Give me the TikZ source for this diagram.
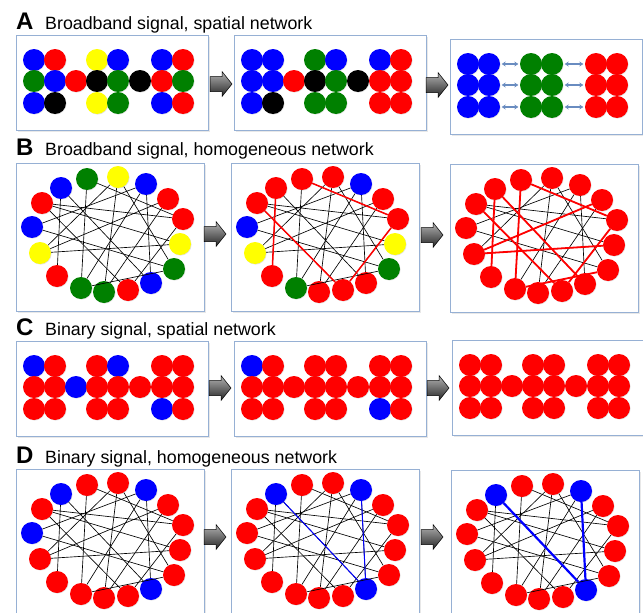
\documentclass[tikz,border=0pt]{standalone}
\usepackage{fontspec}
\setmainfont{Liberation Sans}
\usetikzlibrary{shadows,arrows.meta}
\definecolor{cblue}{RGB}{0,0,255}
\definecolor{cred}{RGB}{255,0,0}
\definecolor{cgreen}{RGB}{0,128,0}
\definecolor{cyellow}{RGB}{255,255,0}
\definecolor{cblack}{RGB}{0,0,0}
\definecolor{framec}{RGB}{150,176,212}
\definecolor{arrc}{RGB}{105,140,192}
\tikzset{
  panel/.style={draw=framec, line width=1pt, fill=white, inner sep=0pt, anchor=north west,
    drop shadow={opacity=0.18, shadow xshift=1pt, shadow yshift=-1pt}},
  dot/.style={circle, inner sep=0pt, minimum size=22pt, fill=#1,
    drop shadow={opacity=0.22, shadow xshift=0.6pt, shadow yshift=-0.6pt}},
  ndot/.style={circle, inner sep=0pt, minimum size=22pt, fill=#1,
    drop shadow={opacity=0.22, shadow xshift=0.6pt, shadow yshift=-0.6pt}},
  edgeblk/.style={black, line width=0.65pt},
  edgered/.style={cred, line width=1.5pt},
  edgeredthick/.style={cred, line width=1.8pt},
  edgeblue/.style={cblue, line width=1pt},
  edgebluethick/.style={cblue, line width=2.2pt},
  dblarr/.style={arrc, line width=1.2pt, {Stealth[length=4pt,width=5pt]}-{Stealth[length=4pt,width=5pt]}, shorten <=1.5pt, shorten >=1.5pt},
  letterlab/.style={anchor=base west, inner sep=0pt, font=\fontsize{24}{28}\selectfont\bfseries},
  titlelab/.style={anchor=base west, inner sep=0pt, font=\fontsize{17.8}{21}\selectfont},
  blockarr/.pic={\draw[black, line width=0.5pt, top color=black!30, bottom color=black!85]
    (0,-7.5) -- (12,-7.5) -- (12,-12.5) -- (22,0) -- (12,12.5) -- (12,7.5) -- (0,7.5) -- cycle;}
}
\newcommand\spatialpanel[4]{%
  \node[panel, minimum width=192pt, minimum height=95pt] (#1) at (#2,#3) {};
  \foreach \c/\r/\col in {#4}{%
    \pgfmathsetmacro\px{#2+{18,39,60,81,102,124,146,167}[\c-1]}%
    \pgfmathsetmacro\py{#3+{25,46,68}[\r-1]}%
    \node[dot=\col] (#1-\c-\r) at (\px,\py) {};
  }%
}
\newcommand\netedges{1/13,1/9,2/12,2/6,3/14,3/11,3/8,4/9,4/15,4/12,5/14,5/11,6/10,6/16,7/14,7/16,8/12,8/15,10/16}
\newcommand\netpanel[4]{%
  \node[panel, minimum width=188pt, minimum height=148pt] (#1) at (#2,#3) {};
  \foreach \col [count=\i] in {#4}{%
    \pgfmathsetmacro\px{#2+{45,71,102,130,152,167,164,158,135,112,88,65,41,24,16,26}[\i-1]}%
    \pgfmathsetmacro\py{#3+{25,16,14,21,36,56,81,106,120,127,129,125,113,90,64,40}[\i-1]}%
    \node[ndot=\col] (#1-\i) at (\px,\py) {};
  }%
  \foreach \a/\b in \netedges {\draw[edgeblk] (#1-\a) -- (#1-\b);}%
}
\begin{document}
\begin{tikzpicture}[x=1pt,y=-1pt]
\useasboundingbox (0,0) rectangle (643,613);
% ---------- titles
\node[letterlab] (tA) at (16,30) {A};
\node[titlelab] (sA) at (45,29.5) {Broadband signal, spatial network};
\node[letterlab] (tB) at (16,155.5) {B};
\node[titlelab] (sB) at (45,155) {Broadband signal, homogeneous network};
\node[letterlab] (tC) at (16,335.5) {C};
\node[titlelab] (sC) at (45,335) {Binary signal, spatial network};
\node[letterlab] (tD) at (16,463.5) {D};
\node[titlelab] (sD) at (45,463) {Binary signal, homogeneous network};
% ---------- A
\spatialpanel{A1}{16}{35}{1/1/cblue,1/2/cgreen,1/3/cblue,2/1/cred,2/2/cblue,2/3/cblack,3/2/cred,4/1/cyellow,4/2/cblack,4/3/cyellow,5/1/cblue,5/2/cgreen,5/3/cgreen,6/2/cblack,7/1/cblue,7/2/cred,7/3/cblue,8/1/cred,8/2/cgreen,8/3/cred}
\spatialpanel{A2}{234}{35}{1/1/cblue,1/2/cblue,1/3/cblue,2/1/cblue,2/2/cblue,2/3/cblack,3/2/cred,4/1/cgreen,4/2/cblack,4/3/cgreen,5/1/cblue,5/2/cgreen,5/3/cgreen,6/2/cblack,7/1/cblue,7/2/cred,7/3/cred,8/1/cred,8/2/cred,8/3/cred}
\spatialpanel{A3}{450}{39}{1/1/cblue,1/2/cblue,1/3/cblue,2/1/cblue,2/2/cblue,2/3/cblue,4/1/cgreen,4/2/cgreen,4/3/cgreen,5/1/cgreen,5/2/cgreen,5/3/cgreen,7/1/cred,7/2/cred,7/3/cred,8/1/cred,8/2/cred,8/3/cred}
\foreach \r in {1,2,3}{\draw[dblarr] (A3-2-\r) -- (A3-4-\r); \draw[dblarr] (A3-5-\r) -- (A3-7-\r);}
\pic at (210,84) {blockarr};
\pic at (426,85) {blockarr};
% ---------- B
\netpanel{B1}{16}{163}{cblue,cgreen,cyellow,cblue,cred,cred,cyellow,cgreen,cblue,cred,cgreen,cgreen,cred,cyellow,cblue,cred}
\netpanel{B2}{231}{163}{cred,cred,cred,cblue,cred,cred,cyellow,cgreen,cred,cred,cred,cgreen,cred,cyellow,cblue,cred}
\foreach \a/\b in {1/13,2/6,10/16,6/10}{\draw[edgered] (B2-\a) -- (B2-\b);}
\netpanel{B3}{450}{164}{cred,cred,cred,cred,cred,cred,cred,cred,cred,cred,cred,cred,cred,cred,cred,cred}
\foreach \a/\b in {1/13,2/12,2/6,5/14,7/14,8/12,6/10,10/16,1/9}{\draw[edgeredthick] (B3-\a) -- (B3-\b);}
\pic at (204,234) {blockarr};
\pic at (421,235) {blockarr};
% ---------- C
\spatialpanel{C1}{16}{341}{1/1/cblue,1/2/cred,1/3/cred,2/1/cred,2/2/cred,2/3/cred,3/2/cblue,4/1/cred,4/2/cred,4/3/cred,5/1/cblue,5/2/cred,5/3/cred,6/2/cred,7/1/cred,7/2/cred,7/3/cblue,8/1/cred,8/2/cred,8/3/cred}
\spatialpanel{C2}{234}{341}{1/1/cblue,1/2/cred,1/3/cred,2/1/cred,2/2/cred,2/3/cred,3/2/cred,4/1/cred,4/2/cred,4/3/cred,5/1/cred,5/2/cred,5/3/cred,6/2/cred,7/1/cred,7/2/cred,7/3/cblue,8/1/cred,8/2/cred,8/3/cred}
\spatialpanel{C3}{452}{340}{1/1/cred,1/2/cred,1/3/cred,2/1/cred,2/2/cred,2/3/cred,3/2/cred,4/1/cred,4/2/cred,4/3/cred,5/1/cred,5/2/cred,5/3/cred,6/2/cred,7/1/cred,7/2/cred,7/3/cred,8/1/cred,8/2/cred,8/3/cred}
\pic at (209,388) {blockarr};
\pic at (427,388) {blockarr};
% ---------- D
\netpanel{D1}{16}{469}{cblue,cred,cred,cblue,cred,cred,cred,cred,cblue,cred,cred,cred,cred,cred,cblue,cred}
\netpanel{D2}{231}{469}{cblue,cred,cred,cblue,cred,cred,cred,cred,cblue,cred,cred,cred,cred,cred,cred,cred}
\foreach \a/\b in {1/9,4/9}{\draw[edgeblue] (D2-\a) -- (D2-\b);}
\netpanel{D3}{451}{470}{cblue,cred,cred,cblue,cred,cred,cred,cred,cblue,cred,cred,cred,cred,cred,cred,cred}
\foreach \a/\b in {1/9,4/9}{\draw[edgebluethick] (D3-\a) -- (D3-\b);}
\pic at (204,537) {blockarr};
\pic at (421,537) {blockarr};
\end{tikzpicture}
\end{document}
